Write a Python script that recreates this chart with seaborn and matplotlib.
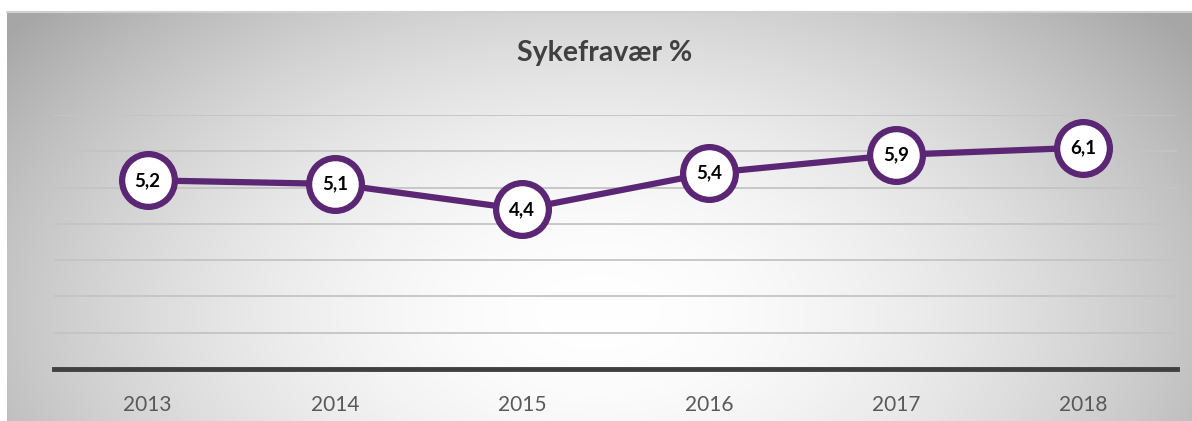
import numpy as np
import pandas as pd
import matplotlib
matplotlib.use("Agg")
import matplotlib.pyplot as plt
import seaborn as sns

years = ["2013", "2014", "2015", "2016", "2017", "2018"]
values = [5.2, 5.1, 4.4, 5.4, 5.9, 6.1]
labels = ["5,2", "5,1", "4,4", "5,4", "5,9", "6,1"]
title = "Sykefravær %"

sns.set_theme(style="white")
plt.rcParams['font.family'] = ['Lato', 'DejaVu Sans']

W, H = 1192, 421
fig = plt.figure(figsize=(W / 100, H / 100), dpi=100)
fig.patch.set_facecolor("white")

# background radial gradient panel
bg = fig.add_axes([7 / W, 0, (W - 7) / W, (H - 12) / H])
bw, bh = W - 7, H - 12
yy, xx = np.mgrid[0:bh, 0:bw]
cx, cy = 590, 300
r = np.sqrt(((xx - cx) / 620.0) ** 2 + ((yy - cy) / 380.0) ** 2)
val = 1.0 - 0.25 * np.clip(r, 0, 1.2) ** 1.8
img = np.dstack([val, val, val])
bg.imshow(img, aspect="auto", extent=[0, 1, 0, 1], origin="upper")
bg.set_axis_off()
fig.add_artist(plt.Line2D([7 / W, 1], [(H - 12) / H, (H - 12) / H], color="#d0d0d0", lw=1.5))

# main axes
left, right = 54 / W, 1177 / W
bottom, top = (H - 369) / H, (H - 115) / H
ax = fig.add_axes([left, bottom, right - left, top - bottom])
ax.patch.set_alpha(0)

df = pd.DataFrame({"year": years, "value": values})
purple = "#5b2673"
sns.lineplot(data=df, x="year", y="value", ax=ax, color=purple, lw=4.5,
             marker="o", markersize=38, markerfacecolor="white",
             markeredgecolor=purple, markeredgewidth=4.5, zorder=5)
for i, (v, lab) in enumerate(zip(values, labels)):
    ax.text(i, v, lab, ha="center", va="center", fontsize=13.5,
            fontweight="bold", color="black", zorder=6)

ax.set_xlim(-0.5, len(years) - 0.5)
ax.set_ylim(0, 7)
ax.set_yticks(range(1, 8))
ax.yaxis.grid(True, color="#c4c4c4", lw=1.3)
ax.xaxis.grid(False)
ax.set_axisbelow(True)
ax.tick_params(axis="y", left=False, labelleft=False)
ax.tick_params(axis="x", bottom=False, labelsize=15, labelcolor="#595959", pad=13)
ax.set_xlabel("")
ax.set_ylabel("")
for s in ["top", "right", "left"]:
    ax.spines[s].set_visible(False)
ax.spines["bottom"].set_color("#404040")
ax.spines["bottom"].set_linewidth(3.5)

fig.text(605 / W, (H - 53) / H, title, ha="center", va="center",
         fontsize=20.5, fontweight="bold", color="#404040")

fig.savefig("out.png", dpi=100)
